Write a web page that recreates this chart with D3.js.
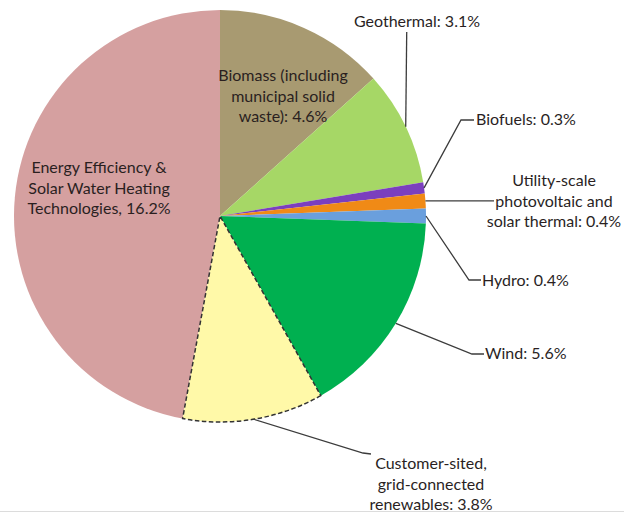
<!DOCTYPE html>
<html>
<head>
<meta charset="utf-8">
<script src="https://cdn.jsdelivr.net/npm/d3@7"></script>
<style>
  html, body { margin: 0; padding: 0; background: #fff; }
  svg { display: block; }
  text { font-family: Lato, "Open Sans", sans-serif; fill: #2a1f1f; }
</style>
</head>
<body>
<svg id="chart" width="624" height="513"></svg>
<script>
// ---- data ----
const categories = [
  "Biomass (including municipal solid waste)",
  "Geothermal",
  "Biofuels",
  "Utility-scale photovoltaic and solar thermal",
  "Hydro",
  "Wind",
  "Customer-sited, grid-connected renewables",
  "Energy Efficiency & Solar Water Heating Technologies"
];
const values = [4.6, 3.1, 0.3, 0.4, 0.4, 5.6, 3.8, 16.2];
const colors = ["#a89a71", "#a6d766", "#7b3fbe", "#f08a16", "#6a9fdd", "#00b050", "#fff9a8", "#d5a0a0"];
const labelLines = [
  ["Biomass (including", "municipal solid", "waste): 4.6%"],
  ["Geothermal: 3.1%"],
  ["Biofuels: 0.3%"],
  ["Utility-scale", "photovoltaic and", "solar thermal: 0.4%"],
  ["Hydro: 0.4%"],
  ["Wind: 5.6%"],
  ["Customer-sited,", "grid-connected", "renewables: 3.8%"],
  ["Energy Efficiency &", "Solar Water Heating", "Technologies, 16.2%"]
];

// ---- layout ----
const cx = 220, cy = 216, R = 206;
const fontSize = 16, lineH = 20.7;
const labelPos = [
  {anchor: "middle", x: 283, y: 81, leader: null},
  {anchor: "middle", x: 417, y: 27, leader: "geo"},
  {anchor: "start", x: 476, y: 125, leader: [[461, 120], [474, 120]]},
  {anchor: "middle", x: 554, y: 186, leader: [[494, null]]},
  {anchor: "start", x: 482, y: 286, leader: [[469, 280], [481, 280]]},
  {anchor: "start", x: 485, y: 359, leader: [[472, 354], [484, 354]]},
  {anchor: "middle", x: 431, y: 469, leader: [[363, 453], [371, 454]]},
  {anchor: "middle", x: 99, y: 173, leader: null}
];

const svg = d3.select("#chart");

svg.append("line").attr("x1", 0).attr("x2", 624).attr("y1", 511.5).attr("y2", 511.5)
  .attr("stroke", "#dcdcdc").attr("stroke-width", 1);

const g = svg.append("g").attr("transform", `translate(${cx},${cy})`);

const pie = d3.pie().sort(null).value(d => d)(values);
const arc = d3.arc().innerRadius(0).outerRadius(R);
const edge = d3.arc().innerRadius(R).outerRadius(R);

g.selectAll("path.slice").data(pie).join("path")
  .attr("class", "slice")
  .attr("d", arc)
  .attr("fill", (d, i) => colors[i])
  .attr("stroke", (d, i) => i === 6 ? "#333" : "none")
  .attr("stroke-width", (d, i) => i === 6 ? 1.5 : 0)
  .attr("stroke-dasharray", (d, i) => i === 6 ? "4.5,2.5" : null)
  .attr("stroke-linejoin", "round");

g.selectAll("path.slice").filter((d, i) => i === 6).raise();

pie.forEach((d, i) => {
  const lp = labelPos[i];
  if (!lp.leader) return;
  const [ex, ey] = edge.centroid(d);
  const p0 = [cx + ex, cy + ey];
  let pts;
  if (lp.leader === "geo") {
    pts = [p0, [p0[0] + 1, 32]];
  } else {
    pts = [p0].concat(lp.leader.map(p => [p[0], p[1] === null ? p0[1] : p[1]]));
  }
  svg.append("path")
    .attr("d", d3.line()(pts))
    .attr("fill", "none")
    .attr("stroke", "#3c3c3c")
    .attr("stroke-width", 1.3);
});

labelLines.forEach((lines, i) => {
  const lp = labelPos[i];
  const t = svg.append("text")
    .attr("text-anchor", lp.anchor)
    .attr("font-size", fontSize);
  lines.forEach((ln, j) => {
    t.append("tspan").attr("x", lp.x).attr("y", lp.y + j * lineH).text(ln);
  });
});
</script>
</body>
</html>
